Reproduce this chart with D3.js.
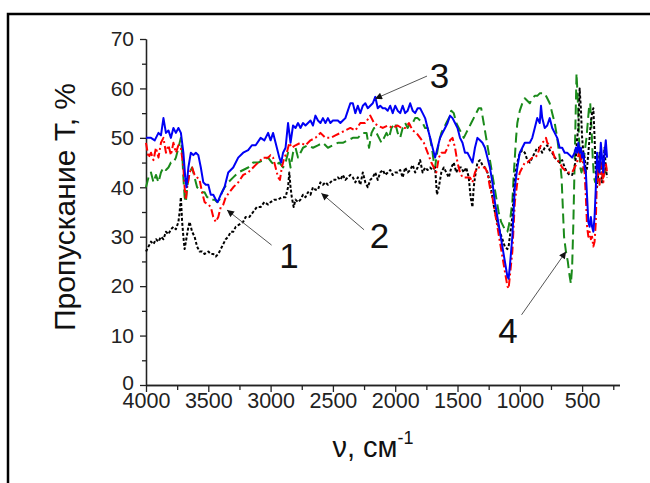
<!DOCTYPE html>
<html lang="ru">
<head>
<meta charset="utf-8">
<title>IR spectra</title>
<script src="https://cdn.jsdelivr.net/npm/d3@7"></script>
<style>
  body { margin: 0; background: #fff; }
  svg { display: block; font-family: "Liberation Sans", Arial, sans-serif; }
  .spec { fill: none; stroke-width: 2; stroke-linejoin: round; }
  .axis path, .axis line { stroke: #222; stroke-width: 1.3; }
  .axis text { fill: #222; }
</style>
</head>
<body>
<script>
// curve 1 (red, dash-dot)
var nu1 = [4000,3980,3960,3940,3920,3900,3880,3860,3840,3820,3800,3780,3760,3740,3720,3700,3690,3680,3670,3650,3630,3610,3590,3570,3550,3530,3500,3480,3460,3440,3420,3400,3380,3360,3330,3300,3260,3220,3180,3140,3100,3060,3020,3000,2980,2960,2940,2925,2910,2890,2870,2850,2830,2800,2760,2720,2680,2640,2600,2560,2520,2480,2440,2400,2360,2320,2280,2240,2200,2170,2140,2100,2060,2020,1980,1950,1920,1890,1860,1830,1800,1770,1740,1710,1690,1670,1650,1630,1600,1580,1560,1540,1520,1500,1480,1460,1430,1400,1380,1360,1340,1310,1280,1260,1240,1220,1200,1180,1160,1140,1120,1100,1090,1080,1060,1050,1040,1020,1000,980,960,940,920,900,880,860,840,820,800,790,780,760,740,720,700,680,660,640,620,600,580,560,540,520,510,500,490,480,470,460,450,440,430,420,410,400,390,380,370,360,350,340,330,320,310,300];
var t1 = [49,46,47,45.5,48,46,49,50,47,48.5,46.5,49,47,48.5,48,44,40,37.5,40,43,44,42.5,42,41.5,39,37,36.5,36,34,33,34,36,36.5,38,39,40,41,42.5,43,44,45,46,46,46.5,46,44,42,41.5,44,46,47,49,48,48.5,49,48.5,49.5,50,51,50,50,50.5,51,51.5,52,51.5,53,53,54.5,53,52.5,52,52.5,52,52.5,52,52,53,51.5,51,50,49,47,45,44,43,46,47,47,48,49.5,50,48,45,43,42,42,42,41,43,44,44,44,43,40,38,35,32,29,26,23,20,19.5,22,27,32,37,41,43,44,45,45,45.5,46,46,46.5,48,49,49.5,50,49,48.5,47.5,46,45.5,45,44,43.5,43,43,43,44,45,48,45,47,44,43,38,32,30,31,29.5,30,28,29,33,44,42,40.5,45,43,41,44,45,43];

// curve 2 (black, dotted)
var nu2 = [4000,3980,3960,3940,3920,3900,3880,3860,3840,3820,3800,3780,3760,3740,3730,3720,3710,3700,3690,3680,3660,3650,3630,3610,3590,3570,3550,3530,3500,3480,3460,3440,3420,3400,3380,3360,3340,3320,3300,3280,3250,3220,3200,3170,3140,3110,3080,3050,3020,3000,2970,2940,2910,2880,2860,2850,2840,2830,2815,2800,2780,2760,2740,2720,2700,2680,2660,2640,2620,2600,2580,2560,2540,2520,2500,2480,2460,2440,2420,2400,2380,2360,2340,2320,2300,2280,2260,2240,2220,2200,2180,2160,2140,2120,2100,2080,2060,2040,2020,2000,1980,1960,1940,1920,1900,1880,1860,1840,1820,1800,1780,1760,1740,1720,1700,1680,1665,1650,1630,1610,1590,1570,1550,1530,1510,1490,1470,1450,1430,1410,1395,1380,1370,1360,1340,1320,1300,1280,1260,1240,1220,1200,1180,1160,1140,1120,1100,1090,1080,1060,1050,1040,1020,1000,980,960,940,920,900,880,860,840,820,800,780,760,740,720,700,680,660,640,620,600,580,560,550,540,530,520,510,500,490,480,470,460,450,440,430,420,410,400,390,380,370,360,350,340,330,320,310,300];
var t2 = [27,28,29,28.5,29.5,29,30,29.5,31,30.5,31.5,32,31.5,33,35,38,33,30,27.5,29,32,33,31,30,28,27,27,26.5,27,26.5,26.5,26,26.5,27.5,28.5,29.5,30,31,31,32,32.5,33,34,34,35,36,36,37,36.5,37,37.5,37.5,38,38,40,43,40,38,36,37.5,37,37.5,38.5,38,39,38.5,40,39.5,39.5,41,40.5,41,40.5,41,41.5,41.5,42,41.5,42.5,41.5,42,42.5,42,41,42,40.5,43,41,40,41.5,42,43,41.5,43,43.5,42.5,43,43.5,42.5,43,43,43.5,42,44,43,43.5,44.5,43,44,45.5,43,44,43.5,44,43.5,44,38.5,40,43,44,43,42,44,45,43,44,44,43,44,42,38,36,40,42,45,45.5,44.5,44,43,41,38,35,33,31,29.5,28,27.5,28,30,34,38,42,45,47,47.5,47,45.5,45,46,47,48,48,47,48,48.5,47.5,47,46,45.5,45,45.5,44,43,42.5,42.5,44,46,50,52,60,56,50,47,46,43,44,47,50,53,55,56,50,43,40,43,47,45,41,44,48,44,42,46];

// curve 3 (blue, solid)
var nu3 = [4000,3960,3930,3900,3880,3860,3840,3820,3800,3780,3760,3740,3720,3700,3685,3675,3660,3640,3620,3600,3580,3560,3540,3520,3500,3480,3460,3440,3425,3400,3370,3340,3300,3260,3220,3180,3150,3120,3080,3050,3020,3000,2980,2960,2930,2915,2900,2880,2860,2850,2840,2820,2800,2780,2760,2740,2720,2700,2680,2660,2640,2620,2600,2580,2560,2540,2520,2500,2460,2440,2420,2400,2380,2360,2340,2320,2300,2280,2260,2240,2220,2200,2180,2160,2140,2120,2100,2080,2060,2040,2020,2000,1980,1960,1940,1920,1900,1880,1860,1840,1820,1800,1780,1760,1740,1720,1700,1680,1660,1640,1620,1600,1580,1560,1540,1520,1500,1480,1460,1440,1420,1400,1380,1360,1340,1320,1300,1280,1260,1240,1220,1200,1180,1160,1140,1120,1100,1090,1080,1060,1050,1040,1020,1000,980,960,940,920,900,880,860,840,830,820,800,780,760,740,720,700,680,660,640,620,600,580,560,550,540,530,520,510,500,490,480,470,460,450,440,430,420,410,400,390,380,370,360,350,340,330,320,310,300];
var t3 = [50,50,49.5,51,50.5,54,51,51.5,50,52,51,52,51,47,42,40,44,47,46.5,47,46.5,44,41,40.5,40.5,38.5,38.5,37.5,37,38.5,40,43,44,46,47,47.5,48.5,48.5,50,49.5,51,49.5,51,49,46,45,47,48,53,51,49,52.5,52,53,52,53,52.5,53,53.5,52.5,54.5,53.5,53,54,53,54,53,53.5,53.5,53,53.5,54,55.5,57,57,55,56.5,55,56.5,57,56,56.5,57,58.3,56,56.5,56,56,55.5,56.5,55,56.5,55.5,55,56.5,55,55.5,57,55.5,55,56,56,55,54,52,50,48,46,48,50,51,52,53,54.5,54,53,52,50,49,47,47,46,45,48,50,49.5,49,48,46,44,41,37,34,31,28,25,22,21.5,24,30,35,40,44,47,48,49,49,49,50,52,54,53,56.5,54,52,52.5,54,52,51,50,48,48,47,47,46.5,46,47,48,47,49,47,48,46,47,44,43,38,33,32,34,32,31,34,40,47,44,43,49,46,43,47,49.5,46];

// curve 4 (green, dashed)
var nu4 = [4000,3980,3960,3940,3920,3900,3880,3860,3840,3820,3800,3780,3760,3740,3720,3710,3700,3690,3680,3670,3650,3630,3610,3590,3570,3550,3530,3510,3490,3470,3450,3430,3410,3390,3370,3340,3300,3260,3220,3180,3140,3100,3060,3020,2990,2960,2930,2900,2880,2860,2840,2820,2800,2780,2760,2740,2700,2660,2620,2580,2540,2500,2460,2420,2380,2340,2300,2260,2230,2210,2190,2170,2150,2130,2110,2090,2070,2050,2030,2000,1980,1960,1940,1920,1900,1880,1860,1840,1820,1800,1780,1760,1740,1720,1700,1690,1680,1670,1650,1630,1610,1590,1570,1550,1530,1510,1490,1470,1450,1430,1410,1390,1370,1350,1330,1310,1290,1270,1250,1230,1210,1190,1170,1150,1130,1110,1100,1090,1075,1060,1050,1040,1030,1020,1000,980,960,940,920,900,880,860,840,820,800,780,760,740,720,700,680,665,655,645,630,615,600,590,580,570,560,550,545,535,525,515,505,495,485,475,465,455,445,435,425,415,405,395,385,375,365,355,345,335,325,315,305];
var t4 = [40,42,43,41,42.5,41,43,44,43.5,44,45,45,46,48,50,47,42,38,37,40,43,44,42,40,39.5,39,39,38,38,37.5,37.5,37,37.5,39,40,41,42,43,43.5,44,45,45,45.5,46,45,44.5,45,44,45,47,44,47,48,46,47,48,48.5,48,48.5,49,48,48.5,49,49,49.5,50,50,51,51,48,51,52,51,50,49,50,51,50,52,53,51,50,52,53,52,53,53,54,54,53.5,53,52,52,50,47,45,44,46,49,51,52,53,54,55.5,55,53,52,51,50,51,52,53,54,55,56,56,53,50,47,44,41,38,35,33,32,31,31,32,34,37,42,46,50,53,55.5,57,58,57.5,57,58,58.5,58.5,59,59,59,58,57,55,53,50,46,42,36,30,27,25,22,20.5,24,33,45,57,63,58,50,44,43,44,46,48,50,53,56,57,52,46,42,41,43,44,46,47,45,44,45,43,44];

// axis ticks
var xMajor = [4000,3500,3000,2500,2000,1500,1000,500];
var xMinor = [3750,3250,2750,2250,1750,1250,750,250];
var yMajor = [0,10,20,30,40,50,60,70];
var yMinor = [5,15,25,35,45,55,65];

// annotation numbers: label, arrow tip, arrow tail, label position (nu, T)
var noteLabels = ["1", "2", "3", "4"];
var noteTip = [[3350,35.4],[2593,38.8],[2162,57.9],[629,27]];
var noteTail = [[2992,28.3],[2250,31.4],[1745,62.5],[986,14.2]];
var notePos = [[2852,23.7],[2126,27.7],[1645,60.1],[1095,8.5]];

var w = 650, h = 483;

var svg = d3.select("body").append("svg")
  .attr("width", w)
  .attr("height", h);

// outer frame
svg.append("rect")
  .attr("x", 8).attr("y", 14)
  .attr("width", 660).attr("height", 500)
  .attr("fill", "none")
  .attr("stroke", "#000")
  .attr("stroke-width", 2.5);

var xScale = d3.scaleLinear().domain([4000, 200]).range([146, 619.5]);
var yScale = d3.scaleLinear().domain([0, 70]).range([385, 39]);

// x axis
svg.append("g")
  .attr("class", "axis")
  .attr("transform", "translate(0,385)")
  .call(d3.axisBottom(xScale).tickValues(xMinor).tickSize(5).tickSizeOuter(0).tickFormat(""));
svg.append("g")
  .attr("class", "axis")
  .attr("transform", "translate(0,385)")
  .call(d3.axisBottom(xScale).tickValues(xMajor).tickSize(7).tickPadding(1).tickSizeOuter(0).tickFormat(d3.format("d")))
  .selectAll("text").style("font-size", "21.5px");

// y axis
svg.append("g")
  .attr("class", "axis")
  .attr("transform", "translate(146,0)")
  .call(d3.axisLeft(yScale).tickValues(yMinor).tickSize(4).tickSizeOuter(0).tickFormat(""));
svg.append("g")
  .attr("class", "axis")
  .attr("transform", "translate(146,0)")
  .call(d3.axisLeft(yScale).tickValues(yMajor).tickSize(6).tickPadding(6).tickSizeOuter(0).tickFormat(d3.format("d")))
  .selectAll("text").style("font-size", "21px")
  .attr("dy", function(d){ return d === 0 ? "0.2em" : "0.32em"; });

// axis titles
svg.append("text")
  .attr("transform", "translate(75,207) rotate(-90)")
  .attr("text-anchor", "middle")
  .style("font-size", "30px")
  .attr("fill", "#111")
  .text("Пропускание Т, %");

var xt = svg.append("text")
  .attr("x", 373).attr("y", 457)
  .attr("text-anchor", "middle")
  .style("font-size", "29px")
  .attr("fill", "#111");
xt.append("tspan").text("ν, см");
xt.append("tspan").attr("dy", -13).style("font-size", "18px").text("-1");

// spectra
var line = d3.line()
  .x(function(d){ return xScale(d[0]); })
  .y(function(d){ return yScale(d[1]); });

var series = [
  { nu: nu4, t: t4, color: "#1a8a1a", dash: "10,5" },
  { nu: nu2, t: t2, color: "#000", dash: "3,2" },
  { nu: nu1, t: t1, color: "#f00", dash: "8,3,2,3" },
  { nu: nu3, t: t3, color: "#0000f5", dash: null }
];

series.forEach(function(s){
  svg.append("path")
    .datum(d3.zip(s.nu, s.t))
    .attr("class", "spec")
    .attr("stroke", s.color)
    .attr("stroke-dasharray", s.dash)
    .attr("d", line);
});

// annotations
svg.append("defs").append("marker")
  .attr("id", "head")
  .attr("viewBox", "0 0 10 10")
  .attr("refX", 10).attr("refY", 5)
  .attr("markerWidth", 9).attr("markerHeight", 7)
  .attr("markerUnits", "userSpaceOnUse")
  .attr("orient", "auto")
  .append("path")
  .attr("d", "M0,0 L10,5 L0,10 z")
  .attr("fill", "#111");

noteLabels.forEach(function(lab, i){
  svg.append("line")
    .attr("x1", xScale(noteTail[i][0])).attr("y1", yScale(noteTail[i][1]))
    .attr("x2", xScale(noteTip[i][0])).attr("y2", yScale(noteTip[i][1]))
    .attr("stroke", "#555")
    .attr("stroke-width", 1)
    .attr("marker-end", "url(#head)");
  svg.append("text")
    .attr("x", xScale(notePos[i][0])).attr("y", yScale(notePos[i][1]))
    .attr("text-anchor", "middle")
    .style("font-size", "35px")
    .attr("fill", "#111")
    .text(lab);
});
</script>
</body>
</html>
